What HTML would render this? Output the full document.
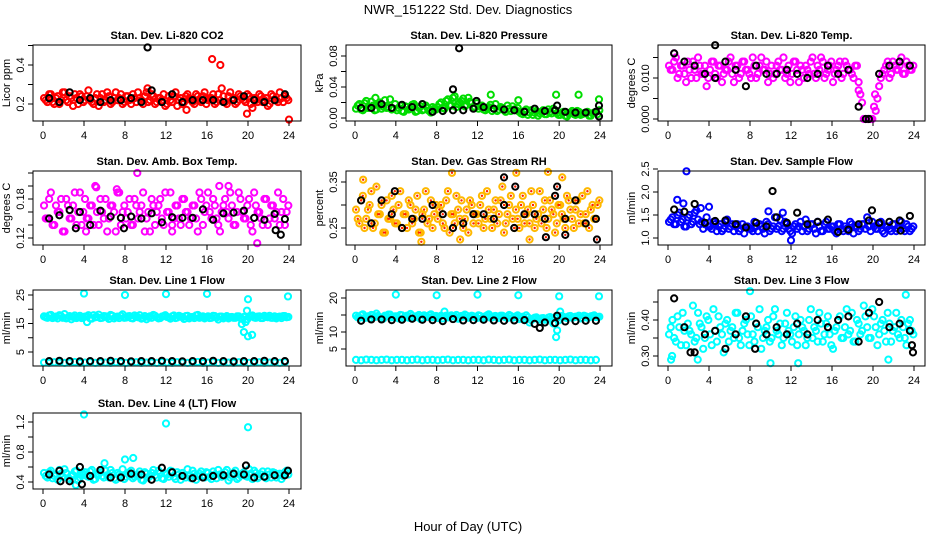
<!DOCTYPE html>
<html><head><meta charset="utf-8"><style>
html,body{margin:0;padding:0;background:#fff;}
svg{display:block;font-family:"Liberation Sans",sans-serif;}
</style></head><body>
<svg id="chart" width="936" height="540" viewBox="0 0 936 540" xmlns="http://www.w3.org/2000/svg">
<rect width="936" height="540" fill="#fff"/>
<text x="468" y="14" text-anchor="middle" font-size="13">NWR_151222  Std. Dev. Diagnostics</text>
<text x="468" y="531" text-anchor="middle" font-size="13">Hour of Day (UTC)</text>
<g id="panels"></g>
</svg>
<script>
// ---- data (hour-of-day std. dev. diagnostics) ----
const hourTicks = [0,4,8,12,16,20,24];

const co2Color = [0.23,0.21,0.25,0.20,0.24,0.22,0.26,0.21,0.23,0.25,0.20,0.24,0.22,0.27,0.21,0.23,0.19,0.25,0.22,0.24,0.21,0.26,0.23,0.20,0.24,0.22,0.25,0.21,0.23,0.20,0.26,0.22,0.24,0.21,0.23,0.25,0.20,0.22,0.24,0.19,0.23,0.21,0.25,0.22,0.20,0.24,0.21,0.26,0.22,0.23,0.20,0.25,0.28,0.21,0.24,0.22,0.20,0.25,0.23,0.21,0.24,0.18,0.22,0.25,0.21,0.23,0.20,0.24,0.22,0.26,0.21,0.23];
const co2ColorB = [0.22,0.25,0.21,0.23,0.20,0.26,0.22,0.24,0.19,0.23,0.25,0.21,0.24,0.22,0.20,0.25,0.23,0.21,0.26,0.20,0.23,0.22,0.25,0.21,0.24,0.20,0.23,0.26,0.22,0.24,0.21,0.25,0.20,0.23,0.22,0.19,0.24,0.21,0.26,0.22,0.20,0.24,0.23,0.21,0.25,0.22,0.24,0.20,0.23,0.25,0.21,0.22,0.24,0.20,0.26,0.23,0.21,0.24,0.22,0.25,0.20,0.23,0.21,0.24,0.22,0.19,0.25,0.22,0.21,0.23,0.24,0.22];
const co2Black = [0.23,0.21,0.26,0.22,0.23,0.21,0.22,0.22,0.23,0.21,0.27,0.21,0.25,0.21,0.22,0.22,0.22,0.21,0.22,0.24,0.22,0.21,0.22,0.25];
const co2OutHours = [16.5,17.3,19.9,24.0,10.2,14.0];
const co2OutValues = [0.43,0.40,0.15,0.12,0.28,0.17];
const co2BlackOutHours = [10.2];
const co2BlackOutValues = [0.49];

const presColor = [0.012,0.018,0.010,0.022,0.014,0.016,0.011,0.020,0.015,0.013,0.024,0.012,0.010,0.016,0.008,0.014,0.012,0.018,0.009,0.015,0.011,0.013,0.007,0.012,0.014,0.020,0.012,0.024,0.016,0.028,0.018,0.022,0.015,0.026,0.019,0.014,0.012,0.016,0.010,0.014,0.009,0.018,0.011,0.013,0.008,0.012,0.015,0.010,0.008,0.005,0.011,0.007,0.004,0.009,0.006,0.010,0.005,0.008,0.012,0.006,0.004,0.008,0.002,0.007,0.005,0.009,0.004,0.006,0.008,0.003,0.007,0.005];
const presColorB = [0.016,0.011,0.019,0.013,0.021,0.010,0.017,0.012,0.023,0.014,0.011,0.018,0.013,0.009,0.015,0.011,0.017,0.008,0.013,0.010,0.016,0.009,0.014,0.011,0.018,0.013,0.022,0.016,0.026,0.014,0.020,0.025,0.017,0.021,0.013,0.019,0.015,0.011,0.013,0.017,0.012,0.009,0.014,0.010,0.016,0.009,0.011,0.013,0.006,0.009,0.004,0.010,0.007,0.003,0.008,0.005,0.011,0.006,0.009,0.004,0.007,0.003,0.006,0.009,0.004,0.008,0.005,0.007,0.003,0.006,0.008,0.010];
const presBlack = [0.013,0.013,0.018,0.013,0.017,0.014,0.018,0.008,0.009,0.010,0.010,0.012,0.014,0.012,0.011,0.010,0.008,0.012,0.009,0.010,0.008,0.007,0.007,0.008];
const presOutHours = [13.3,19.7,21.9,23.9,16.0,2.0];
const presOutValues = [0.030,0.030,0.030,0.024,0.023,0.026];
const presBlackOutHours = [9.6,10.2,11.9,19.8,23.9,23.9];
const presBlackOutValues = [0.037,0.090,0.022,0.016,0.016,0.002];

const tempColor = [0.013,0.012,0.015,0.011,0.013,0.009,0.012,0.014,0.010,0.013,0.011,0.008,0.012,0.014,0.010,0.013,0.011,0.012,0.015,0.009,0.013,0.011,0.014,0.012,0.010,0.013,0.011,0.015,0.012,0.009,0.013,0.011,0.014,0.012,0.010,0.013,0.011,0.014,0.009,0.012,0.013,0.011,0.015,0.010,0.012,0.014,0.011,0.013,0.009,0.012,0.014,0.011,0.013,0.012,0.010,0.013,0.006,0.000,0.000,0.000,0.003,0.005,0.010,0.012,0.014,0.011,0.013,0.012,0.015,0.011,0.013,0.012];
const tempColorB = [0.012,0.014,0.010,0.013,0.011,0.014,0.010,0.012,0.015,0.011,0.013,0.010,0.014,0.011,0.013,0.009,0.012,0.014,0.011,0.013,0.010,0.014,0.012,0.011,0.015,0.010,0.013,0.012,0.014,0.011,0.010,0.013,0.012,0.015,0.011,0.009,0.014,0.012,0.013,0.010,0.012,0.014,0.011,0.013,0.015,0.010,0.012,0.014,0.011,0.013,0.010,0.014,0.012,0.011,0.013,0.009,0.004,0.000,0.000,0.000,0.002,0.008,0.011,0.013,0.010,0.014,0.012,0.013,0.011,0.014,0.012,0.013];
const tempBlack = [0.016,0.014,0.013,0.011,0.010,0.014,0.012,0.008,0.013,0.011,0.011,0.012,0.011,0.010,0.011,0.013,0.011,0.012,0.003,0.000,0.011,0.013,0.014,0.013];
const tempOutHours = [18.6,19.5,20.2,0.6];
const tempOutValues = [0.007,0.000,0.006,0.016];
const tempBlackOutHours = [4.6,19.3];
const tempBlackOutValues = [0.018,0.000];

const ambColor = [0.17,0.15,0.19,0.14,0.16,0.18,0.13,0.17,0.15,0.19,0.16,0.14,0.18,0.15,0.17,0.20,0.14,0.16,0.18,0.15,0.17,0.13,0.19,0.16,0.15,0.18,0.14,0.17,0.16,0.19,0.15,0.13,0.17,0.16,0.18,0.14,0.16,0.19,0.15,0.17,0.14,0.18,0.16,0.15,0.17,0.13,0.18,0.16,0.19,0.15,0.17,0.14,0.16,0.18,0.15,0.17,0.14,0.19,0.16,0.15,0.18,0.13,0.17,0.16,0.14,0.18,0.15,0.17,0.16,0.14,0.18,0.16];
const ambColorB = [0.15,0.18,0.14,0.17,0.16,0.13,0.18,0.15,0.17,0.14,0.19,0.16,0.15,0.17,0.14,0.16,0.18,0.15,0.13,0.17,0.16,0.19,0.14,0.17,0.16,0.14,0.18,0.15,0.17,0.13,0.16,0.18,0.14,0.17,0.15,0.19,0.16,0.14,0.17,0.15,0.18,0.16,0.14,0.17,0.15,0.19,0.14,0.17,0.16,0.18,0.15,0.13,0.17,0.16,0.19,0.14,0.16,0.18,0.15,0.17,0.14,0.19,0.16,0.15,0.18,0.14,0.17,0.15,0.19,0.16,0.14,0.17];
const ambBlack = [0.150,0.155,0.163,0.160,0.140,0.162,0.153,0.151,0.153,0.150,0.158,0.144,0.152,0.151,0.151,0.164,0.148,0.158,0.159,0.162,0.151,0.148,0.157,0.149];
const ambOutHours = [9.2,5.2,7.2,17.2,18.1,20.9,4.2,12.6];
const ambOutValues = [0.220,0.198,0.195,0.200,0.200,0.112,0.130,0.130];
const ambBlackOutHours = [23.2,7.9,3.2,22.7];
const ambBlackOutValues = [0.125,0.135,0.135,0.132];

const rhColor = [0.29,0.26,0.32,0.27,0.30,0.25,0.34,0.28,0.24,0.31,0.27,0.29,0.26,0.33,0.28,0.25,0.30,0.27,0.32,0.24,0.29,0.26,0.31,0.28,0.27,0.30,0.25,0.33,0.28,0.26,0.29,0.31,0.27,0.24,0.30,0.28,0.26,0.32,0.27,0.29,0.25,0.31,0.28,0.34,0.26,0.30,0.27,0.29,0.25,0.32,0.28,0.26,0.30,0.27,0.33,0.29,0.25,0.31,0.28,0.26,0.30,0.27,0.32,0.29,0.25,0.31,0.28,0.26,0.33,0.29,0.27,0.30];
const rhColorB = [0.27,0.31,0.25,0.29,0.33,0.26,0.28,0.30,0.24,0.27,0.32,0.26,0.30,0.25,0.28,0.31,0.26,0.29,0.24,0.28,0.33,0.27,0.25,0.30,0.29,0.26,0.31,0.24,0.28,0.32,0.27,0.25,0.29,0.31,0.26,0.28,0.30,0.25,0.33,0.27,0.29,0.26,0.31,0.24,0.28,0.32,0.25,0.27,0.30,0.26,0.29,0.33,0.25,0.28,0.26,0.31,0.27,0.29,0.24,0.30,0.28,0.25,0.31,0.27,0.29,0.26,0.32,0.28,0.25,0.30,0.27,0.31];
const rhBlack = [0.31,0.26,0.31,0.28,0.25,0.27,0.27,0.30,0.28,0.25,0.26,0.28,0.28,0.27,0.30,0.25,0.28,0.28,0.27,0.32,0.27,0.31,0.26,0.27];
const rhOutHours = [9.5,15.8,18.9,6.5,17.1,10.3,20.3,0.8];
const rhOutValues = [0.370,0.370,0.372,0.220,0.225,0.225,0.360,0.355];
const rhBlackOutHours = [3.9,14.6,15.7,18.7,20.6,23.7,19.8];
const rhBlackOutValues = [0.330,0.360,0.340,0.230,0.235,0.225,0.340];

const flowColor = [1.35,1.45,1.30,1.55,1.40,1.25,1.50,1.35,1.60,1.30,1.20,1.45,1.25,1.35,1.15,1.30,1.20,1.40,1.25,1.15,1.30,1.20,1.10,1.25,1.20,1.35,1.15,1.25,1.10,1.30,1.20,1.45,1.25,1.15,1.35,1.20,1.10,1.30,1.25,1.15,1.40,1.20,1.30,1.10,1.25,1.15,1.35,1.20,1.25,1.10,1.30,1.15,1.20,1.35,1.10,1.25,1.20,1.30,1.45,1.15,1.25,1.20,1.35,1.10,1.25,1.15,1.30,1.20,1.35,1.15,1.25,1.20];
const flowColorB = [1.40,1.30,1.50,1.35,1.25,1.45,1.30,1.55,1.40,1.35,1.30,1.25,1.20,1.30,1.25,1.15,1.35,1.20,1.30,1.25,1.15,1.30,1.25,1.20,1.15,1.25,1.30,1.20,1.35,1.15,1.25,1.20,1.40,1.20,1.30,1.15,1.25,1.20,1.35,1.25,1.15,1.30,1.20,1.35,1.15,1.30,1.20,1.25,1.15,1.30,1.20,1.25,1.15,1.30,1.25,1.15,1.30,1.20,1.25,1.35,1.20,1.30,1.15,1.25,1.20,1.30,1.15,1.25,1.20,1.30,1.15,1.25];
const flowBlack = [1.62,1.57,1.74,1.33,1.37,1.38,1.30,1.23,1.33,1.25,1.45,1.33,1.55,1.30,1.35,1.40,1.13,1.18,1.30,1.38,1.33,1.35,1.38,1.48];
const flowOutHours = [1.8,0.9,3.2,4.0,9.8,12.0,11.2,1.5];
const flowOutValues = [2.45,1.83,1.65,1.68,1.58,0.95,1.55,1.75];
const flowBlackOutHours = [10.2,19.9,22.7];
const flowBlackOutValues = [2.02,1.60,1.16];

const l1High = [17.5,17.0,18.0,17.2,16.8,17.6,18.3,17.1,16.5,17.8,17.3,16.9,17.4,17.9,16.7,17.2,18.1,17.0,17.5,16.6,17.7,17.3,16.9,18.2,17.1,17.6,16.8,17.4,17.9,17.0,16.5,17.5,18.0,17.2,16.9,17.6,17.3,16.7,17.8,17.1,17.4,16.6,17.7,17.2,16.9,18.0,17.3,16.8,17.5,17.0,17.6,16.4,17.4,17.1,16.8,17.3,17.0,17.5,16.6,15.5,17.2,17.8,17.0,17.5,16.9,17.3,17.7,17.0,16.8,17.4,17.6,17.2];
const l1HighB = [17.2,17.8,16.9,17.4,17.9,17.0,16.8,17.6,17.3,16.9,17.7,17.1,17.5,16.8,17.9,17.3,16.9,17.6,17.2,18.0,16.8,17.4,17.7,17.0,17.5,16.9,17.8,17.2,16.7,17.6,17.3,17.0,17.7,16.8,17.4,17.9,17.1,17.5,16.9,17.7,17.2,17.6,16.8,17.3,17.8,17.0,17.5,17.2,16.9,17.7,17.1,17.4,16.8,17.6,17.2,17.0,17.5,16.9,17.3,16.5,17.6,17.1,17.4,16.9,17.7,17.2,17.0,17.5,17.3,16.9,17.6,17.3];
const l1Low = [1.3,1.2,1.4,1.3,1.2,1.3,1.5,1.2,1.3,1.4,1.2,1.3,1.3,1.2,1.4,1.3,1.2,1.3,1.4,1.2,1.3,1.3,1.2,1.4,1.3,1.2,1.4,1.3,1.2,1.3,1.5,1.2,1.3,1.4,1.2,1.3,1.3,1.2,1.4,1.3,1.2,1.3,1.4,1.2,1.3,1.3,1.2,1.4];
const l1Black = [1.8,1.9,1.8,1.7,1.8,1.8,1.9,1.8,1.7,1.8,1.8,1.9,1.8,1.7,1.8,1.8,1.9,1.8,1.7,1.8,1.8,1.9,1.8,1.8];
const l1OutHours = [4.0,8.0,12.0,16.0,20.0,23.9,19.9,19.6,20.0,20.4,19.4,4.3];
const l1OutValues = [25.5,25.0,25.3,25.4,23.5,24.5,19.5,12.0,10.5,11.0,14.8,15.5];

const l2High = [14.8,14.2,15.2,14.5,14.0,14.9,15.4,14.3,13.9,14.7,15.1,14.4,14.6,15.0,14.1,14.8,15.3,14.2,14.7,13.8,14.9,14.4,15.2,14.5,14.1,14.8,16.0,14.3,14.9,14.6,13.9,14.7,15.1,14.2,14.8,14.4,14.9,14.0,14.6,15.2,14.3,14.7,14.1,14.8,14.4,15.0,14.2,14.6,13.8,14.5,14.9,12.8,13.9,14.3,13.6,14.1,13.7,14.4,12.5,14.0,16.0,14.4,14.1,14.7,14.3,14.5,14.0,14.8,14.2,14.6,14.9,14.4];
const l2HighB = [14.3,14.9,14.1,14.6,15.0,14.4,14.7,14.2,14.8,15.1,14.3,14.6,14.0,14.9,14.5,14.2,14.8,14.4,15.0,14.1,14.6,14.9,14.3,14.7,14.5,14.0,14.8,14.4,14.6,15.0,14.2,14.5,14.8,14.3,14.6,14.1,14.7,14.4,14.9,14.2,14.6,14.3,14.8,14.5,14.1,14.7,14.4,14.9,14.0,13.9,14.3,13.5,14.2,13.8,14.0,13.6,14.2,13.9,14.3,13.4,14.7,14.3,14.6,14.2,14.5,14.8,14.1,14.6,14.3,14.7,14.4,14.5];
const l2Low = [1.8,1.7,1.9,1.8,1.7,1.8,1.9,1.7,1.8,1.8,1.7,1.8,1.9,1.7,1.8,1.8,1.7,1.8,1.9,1.7,1.8,1.8,1.7,1.8,1.8,1.7,1.9,1.8,1.7,1.8,1.9,1.7,1.8,1.8,1.7,1.8,1.9,1.7,1.8,1.8,1.7,1.8,1.9,1.7,1.8,1.8,1.7,1.8];
const l2Black = [13.3,13.7,13.7,13.5,13.6,13.9,13.6,13.5,13.2,13.8,13.4,13.5,13.6,13.4,13.3,13.4,13.5,12.4,12.8,12.6,13.1,13.2,13.3,13.3];
const l2OutHours = [4.0,8.0,12.0,16.0,20.0,23.9,19.7,19.8];
const l2OutValues = [21.0,20.8,21.0,20.8,20.5,20.5,8.5,10.5];
const l2BlackOutHours = [19.8,18.1];
const l2BlackOutValues = [14.8,11.2];

const l3Color = [0.36,0.40,0.34,0.38,0.42,0.33,0.37,0.44,0.35,0.39,0.32,0.41,0.36,0.43,0.34,0.38,0.31,0.40,0.37,0.35,0.42,0.33,0.39,0.36,0.41,0.34,0.38,0.32,0.37,0.40,0.35,0.43,0.36,0.33,0.39,0.37,0.34,0.41,0.36,0.38,0.33,0.40,0.35,0.37,0.42,0.34,0.39,0.36,0.32,0.38,0.41,0.35,0.43,0.37,0.34,0.40,0.36,0.44,0.38,0.35,0.41,0.33,0.39,0.37,0.42,0.34,0.38,0.36,0.40,0.35,0.39,0.37];
const l3ColorB = [0.38,0.35,0.41,0.33,0.37,0.39,0.36,0.34,0.42,0.38,0.35,0.40,0.33,0.37,0.41,0.36,0.39,0.34,0.38,0.42,0.35,0.37,0.40,0.33,0.36,0.39,0.43,0.35,0.38,0.34,0.41,0.37,0.39,0.35,0.42,0.36,0.38,0.33,0.40,0.37,0.35,0.43,0.38,0.34,0.39,0.36,0.41,0.33,0.37,0.40,0.35,0.38,0.36,0.42,0.34,0.39,0.37,0.41,0.35,0.43,0.38,0.36,0.40,0.34,0.39,0.37,0.42,0.35,0.38,0.33,0.40,0.36];
const l3Black = [0.46,0.38,0.31,0.36,0.37,0.32,0.36,0.41,0.39,0.36,0.38,0.36,0.39,0.36,0.40,0.38,0.40,0.41,0.34,0.42,0.45,0.38,0.39,0.37];
const l3OutHours = [0.3,2.9,10.0,12.7,21.5,23.2,8.0,0.4];
const l3OutValues = [0.29,0.29,0.28,0.28,0.29,0.47,0.48,0.30];
const l3BlackOutHours = [23.9,23.8,2.2,8.5];
const l3BlackOutValues = [0.31,0.33,0.31,0.32];

const l4Color = [0.52,0.46,0.55,0.48,0.43,0.51,0.57,0.45,0.49,0.54,0.42,0.50,0.53,0.47,0.56,0.44,0.51,0.48,0.55,0.46,0.52,0.43,0.50,0.57,0.47,0.53,0.45,0.49,0.54,0.42,0.51,0.48,0.56,0.46,0.52,0.44,0.50,0.55,0.47,0.53,0.43,0.49,0.57,0.45,0.51,0.48,0.54,0.46,0.52,0.44,0.50,0.56,0.47,0.53,0.42,0.49,0.55,0.46,0.51,0.48,0.57,0.44,0.52,0.47,0.54,0.45,0.50,0.53,0.46,0.51,0.48,0.55];
const l4ColorB = [0.48,0.53,0.45,0.50,0.56,0.47,0.52,0.44,0.49,0.55,0.46,0.51,0.48,0.54,0.43,0.50,0.53,0.46,0.49,0.56,0.45,0.52,0.48,0.44,0.51,0.55,0.47,0.50,0.43,0.53,0.46,0.52,0.49,0.55,0.45,0.51,0.47,0.54,0.44,0.50,0.52,0.46,0.48,0.55,0.43,0.51,0.49,0.53,0.47,0.54,0.45,0.50,0.48,0.56,0.46,0.52,0.44,0.49,0.53,0.47,0.51,0.55,0.45,0.50,0.48,0.54,0.46,0.52,0.49,0.44,0.53,0.50];
const l4Black = [0.50,0.55,0.41,0.60,0.48,0.56,0.46,0.46,0.51,0.50,0.43,0.59,0.53,0.48,0.45,0.46,0.48,0.49,0.51,0.50,0.46,0.47,0.49,0.49];
const l4OutHours = [4.0,12.0,20.0,8.0,8.8,6.0,3.2];
const l4OutValues = [1.30,1.18,1.13,0.70,0.72,0.65,0.36];
const l4BlackOutHours = [3.8,19.8,23.9,1.7];
const l4BlackOutValues = [0.37,0.62,0.55,0.41];

// ---- layout ----
const NS = "http://www.w3.org/2000/svg";
const cols = [{l:33,r:301,x0:43,x24:289},{l:346,r:612,x0:355,x24:600},{l:658,r:925,x0:668,x24:914}];
const rows = [{t:45,b:121},{t:171,b:245},{t:290,b:366},{t:413,b:489}];

function el(tag, attrs, parent){
  const e = document.createElementNS(NS, tag);
  for (const k in attrs) e.setAttribute(k, attrs[k]);
  parent.appendChild(e);
  return e;
}

function panel(p){
  const root = document.getElementById('panels');
  const g = el('g', {}, root);
  
  
  const c = cols[p.col], rw = rows[p.row];
  const xs = h => c.x0 + (c.x24 - c.x0) * h / 24;
  const ys = v => p.p1 + (p.p2 - p.p1) * (v - p.v1) / (p.v2 - p.v1);
  const t = el('text', {x:(c.l+c.r)/2, y:rw.t-6, 'text-anchor':'middle', 'font-size':11, 'font-weight':'bold'}, g);
  t.textContent = p.title;
  
  
  const ya = el('text', {x:0, y:0, 'text-anchor':'middle', 'font-size':11, transform:`translate(${c.l-23},${(rw.t+rw.b)/2}) rotate(-90)`}, g);
  ya.textContent = p.ylab;
  
  
  const pts = el('g', {}, g);
  
  
  function dot(h, v, color, name){
    const y = ys(v);
    if (y < rw.t - 4 || y > rw.b + 4) return;
    const cc = el('circle', {cx:xs(h), cy:y, r:3.1, fill:'none', stroke:color, 'stroke-width':2}, pts);
    
    
    if (p.dotFill){
      el('circle', {cx:xs(h), cy:y, r:1.2, fill:p.dotFill}, pts);
    }
  }
  p.colorSeries.forEach((arr, k) => {
    const step = 24 / arr.length;
    const off = (k % 2) * step / 2;
    arr.forEach((v, i) => dot(i * step + 0.1 + off, v, p.color, p.name + '-point'));
  });
  (p.outH || []).forEach((h, i) => dot(h, p.outV[i], p.color, p.name + '-outlier'));
  p.black.forEach((v, i) => dot(i + 0.6, v, '#000', p.name + '-hourly-point'));
  (p.bOutH || []).forEach((h, i) => dot(h, p.bOutV[i], '#000', p.name + '-hourly-outlier'));
  const box = el('rect', {x:c.l, y:rw.t, width:c.r-c.l, height:rw.b-rw.t, fill:'none', stroke:'#000', 'stroke-width':1}, g);
  
  
  hourTicks.forEach(h => {
    el('line', {x1:xs(h), x2:xs(h), y1:rw.b, y2:rw.b+5, stroke:'#000'}, g);
    const tl = el('text', {x:xs(h), y:rw.b+18, 'text-anchor':'middle', 'font-size':11}, g);
    tl.textContent = h;
    
    
  });
  p.yticks.forEach((v, i) => {
    const y = ys(v);
    el('line', {x1:c.l-5, x2:c.l, y1:y, y2:y, stroke:'#000'}, g);
    if (p.ylabels[i] !== ''){
      const yl = el('text', {x:0, y:0, 'text-anchor':'middle', 'font-size':11, transform:`translate(${c.l-9},${y}) rotate(-90)`}, g);
      yl.textContent = p.ylabels[i];
      
      
    }
  });
}

panel({name:'co2', title:'Stan. Dev. Li-820 CO2', ylab:'Licor ppm', col:0, row:0, v1:0.2, p1:104, v2:0.4, p2:65, color:'#ff0000',
  colorSeries:[co2Color, co2ColorB], outH:co2OutHours, outV:co2OutValues, black:co2Black, bOutH:co2BlackOutHours, bOutV:co2BlackOutValues,
  yticks:[0.2,0.3,0.4,0.5], ylabels:['0.2','','0.4','']});
panel({name:'pressure', title:'Stan. Dev. Li-820 Pressure', ylab:'kPa', col:1, row:0, v1:0, p1:118, v2:0.08, p2:56, color:'#00dd00',
  colorSeries:[presColor, presColorB], outH:presOutHours, outV:presOutValues, black:presBlack, bOutH:presBlackOutHours, bOutV:presBlackOutValues,
  yticks:[0,0.02,0.04,0.06,0.08], ylabels:['0.00','','0.04','','0.08']});
panel({name:'li820-temp', title:'Stan. Dev. Li-820 Temp.', ylab:'degrees C', col:2, row:0, v1:0, p1:119, v2:0.010, p2:78, color:'#ff00ff',
  colorSeries:[tempColor, tempColorB], outH:tempOutHours, outV:tempOutValues, black:tempBlack, bOutH:tempBlackOutHours, bOutV:tempBlackOutValues,
  yticks:[0,0.005,0.010,0.015], ylabels:['0.000','','0.010','']});
panel({name:'amb-box-temp', title:'Stan. Dev. Amb. Box Temp.', ylab:'degrees C', col:0, row:1, v1:0.12, p1:238, v2:0.18, p2:199, color:'#ff00ff',
  colorSeries:[ambColor, ambColorB], outH:ambOutHours, outV:ambOutValues, black:ambBlack, bOutH:ambBlackOutHours, bOutV:ambBlackOutValues,
  yticks:[0.12,0.14,0.16,0.18,0.20,0.22], ylabels:['0.12','','','0.18','','']});
panel({name:'gas-rh', title:'Stan. Dev. Gas Stream RH', ylab:'percent', col:1, row:1, v1:0.25, p1:228, v2:0.35, p2:182, color:'#ffb800', dotFill:'#ff2000',
  colorSeries:[rhColor, rhColorB], outH:rhOutHours, outV:rhOutValues, black:rhBlack, bOutH:rhBlackOutHours, bOutV:rhBlackOutValues,
  yticks:[0.25,0.30,0.35], ylabels:['0.25','','0.35']});
panel({name:'sample-flow', title:'Stan. Dev. Sample Flow', ylab:'ml/min', col:2, row:1, v1:1.0, p1:238, v2:2.5, p2:169, color:'#0000ff',
  colorSeries:[flowColor, flowColorB], outH:flowOutHours, outV:flowOutValues, black:flowBlack, bOutH:flowBlackOutHours, bOutV:flowBlackOutValues,
  yticks:[1.0,1.5,2.0,2.5], ylabels:['1.0','1.5','2.0','2.5']});
panel({name:'line1-flow', title:'Stan. Dev. Line 1 Flow', ylab:'ml/min', col:0, row:2, v1:5, p1:352, v2:25, p2:295, color:'#00ffff',
  colorSeries:[l1High, l1HighB, l1Low], outH:l1OutHours, outV:l1OutValues, black:l1Black,
  yticks:[5,10,15,20,25], ylabels:['5','','15','','25']});
panel({name:'line2-flow', title:'Stan. Dev. Line 2 Flow', ylab:'ml/min', col:1, row:2, v1:5, p1:349, v2:20, p2:298, color:'#00ffff',
  colorSeries:[l2High, l2HighB, l2Low], outH:l2OutHours, outV:l2OutValues, black:l2Black, bOutH:l2BlackOutHours, bOutV:l2BlackOutValues,
  yticks:[5,10,15,20], ylabels:['5','10','','20']});
panel({name:'line3-flow', title:'Stan. Dev. Line 3 Flow', ylab:'ml/min', col:2, row:2, v1:0.30, p1:356, v2:0.40, p2:320, color:'#00ffff',
  colorSeries:[l3Color, l3ColorB], outH:l3OutHours, outV:l3OutValues, black:l3Black, bOutH:l3BlackOutHours, bOutV:l3BlackOutValues,
  yticks:[0.30,0.35,0.40,0.45], ylabels:['0.30','','0.40','']});
panel({name:'line4-flow', title:'Stan. Dev. Line 4 (LT) Flow', ylab:'ml/min', col:0, row:3, v1:0.4, p1:482, v2:1.2, p2:422, color:'#00ffff',
  colorSeries:[l4Color, l4ColorB], outH:l4OutHours, outV:l4OutValues, black:l4Black, bOutH:l4BlackOutHours, bOutV:l4BlackOutValues,
  yticks:[0.4,0.6,0.8,1.0,1.2], ylabels:['0.4','','0.8','','1.2']});
</script>
</body></html>
